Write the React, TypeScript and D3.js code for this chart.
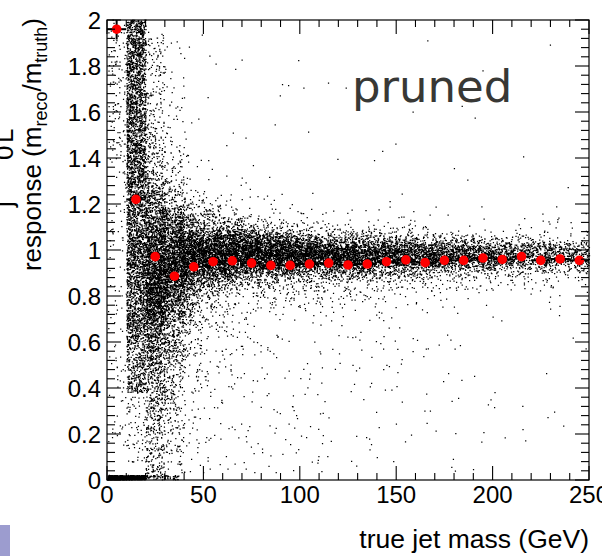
import React, { useMemo } from "react";
import * as d3 from "d3";

const W = 602;
const H = 556;

// profile (red markers): bin centres in GeV and mean response
const binCenters = [5, 15, 25, 35, 45, 55, 65, 75, 85, 95, 105, 115, 125, 135, 145, 155, 165, 175, 185, 195, 205, 215, 225, 235, 245];
const profileValues = [1.96, 1.22, 0.971, 0.886, 0.927, 0.949, 0.953, 0.943, 0.933, 0.933, 0.939, 0.943, 0.935, 0.939, 0.949, 0.957, 0.945, 0.955, 0.955, 0.965, 0.959, 0.971, 0.955, 0.961, 0.955];
const profileErrors = [0.045, 0.02, 0.012, 0.01, 0.008, 0.007, 0.006, 0.006, 0.006, 0.006, 0.006, 0.006, 0.006, 0.006, 0.006, 0.006, 0.006, 0.006, 0.007, 0.007, 0.007, 0.008, 0.008, 0.009, 0.009];

// scatter cloud, per 10 GeV bin: gaussian core, wide low/high shoulders, sparse outliers
const coreMu = [0, 0, 0.92, 0.95, 0.98, 0.99, 0.99, 0.985, 0.985, 0.98, 0.98, 0.978, 0.975, 0.975, 0.975, 0.975, 0.975, 0.975, 0.975, 0.975, 0.975, 0.975, 0.975, 0.975, 0.975];
const coreSigma = [0, 0, 0.23, 0.14, 0.085, 0.072, 0.064, 0.058, 0.054, 0.05, 0.048, 0.046, 0.045, 0.044, 0.043, 0.042, 0.041, 0.04, 0.04, 0.039, 0.039, 0.038, 0.038, 0.038, 0.038];
const coreN = [0, 0, 2300, 1500, 1100, 950, 880, 820, 760, 700, 660, 620, 570, 530, 490, 450, 410, 370, 330, 290, 260, 230, 200, 180, 160];
const lowWideN = [0, 0, 650, 500, 240, 150, 120, 100, 90, 80, 75, 70, 65, 60, 55, 50, 45, 40, 35, 30, 28, 25, 22, 20, 18];
const highWideN = [0, 0, 220, 120, 70, 55, 48, 44, 40, 36, 32, 30, 28, 26, 24, 22, 20, 19, 18, 16, 15, 14, 12, 10, 9];
const lowOutlierN = [0, 0, 180, 100, 45, 30, 25, 22, 20, 18, 16, 14, 13, 12, 11, 10, 8, 7, 6, 5, 3, 3, 2, 2, 2];
const highOutlierN = [0, 0, 110, 35, 10, 6, 5, 4, 4, 3, 3, 3, 2, 2, 2, 2, 2, 2, 2, 2, 1, 1, 1, 1, 1];

// extra uniform regions: low-mass column and the zero-response strip
const rectX0 = [0.5, 0.5, 10, 10, 10, 0, 20];
const rectX1 = [10, 10, 20, 20, 20, 20, 37];
const rectY0 = [0.15, 1.4, 0.6, 0.38, 0.05, 0.0, 0.0];
const rectY1 = [2.0, 2.0, 2.0, 0.6, 0.38, 0.02, 0.02];
const rectN = [150, 70, 3600, 340, 70, 900, 60];

const xTicks = [0, 50, 100, 150, 200, 250];
const yTicks = [0, 0.2, 0.4, 0.6, 0.8, 1, 1.2, 1.4, 1.6, 1.8, 2];

const L = 107, R = 589, T = 20, B = 480;

export default function App() {
  const x = d3.scaleLinear().domain([0, 250]).range([L, R]);
  const y = d3.scaleLinear().domain([0, 2]).range([B, T]);

  const dotsPath = useMemo(() => {
    const lcg = d3.randomLcg(0.4242);
    const nrm = d3.randomNormal.source(lcg)(0, 1);
    const cx = binCenters.slice(2);
    const muAt = d3.scaleLinear().domain(cx).range(coreMu.slice(2)).clamp(true);
    const sgAt = d3.scaleLinear().domain(cx).range(coreSigma.slice(2)).clamp(true);
    const pts: [number, number][] = [];
    const push = (gx: number, gy: number) => {
      if (gy < 0 || gy > 2 || gx < 0 || gx > 250) return;
      pts.push([gx, gy]);
    };
    for (let i = 2; i < binCenters.length; i++) {
      const x0 = binCenters[i] - 5;
      for (let k = 0; k < coreN[i]; k++) {
        const gx = x0 + lcg() * 10;
        push(gx, muAt(gx) + sgAt(gx) * nrm());
      }
      for (let k = 0; k < lowWideN[i]; k++) {
        const gx = x0 + lcg() * 10;
        push(gx, muAt(gx) - Math.abs(nrm()) * 2.8 * sgAt(gx));
      }
      for (let k = 0; k < highWideN[i]; k++) {
        const gx = x0 + lcg() * 10;
        push(gx, muAt(gx) + Math.abs(nrm()) * 2.1 * sgAt(gx));
      }
      for (let k = 0; k < lowOutlierN[i]; k++) push(x0 + lcg() * 10, 0.03 + lcg() * 0.6);
      for (let k = 0; k < highOutlierN[i]; k++) {
        const gx = x0 + lcg() * 10;
        const hi = muAt(gx) + 2 * sgAt(gx);
        push(gx, hi + (1.95 - hi) * lcg());
      }
    }
    for (let r = 0; r < rectN.length; r++) {
      for (let k = 0; k < rectN[r]; k++)
        push(rectX0[r] + lcg() * (rectX1[r] - rectX0[r]), rectY0[r] + lcg() * (rectY1[r] - rectY0[r]));
    }
    return pts
      .map(([gx, gy]) => `M${x(gx).toFixed(1)},${(y(gy) - 0.6).toFixed(1)}h1.25v1.25h-1.25z`)
      .join("");
  }, []);

  const xMinor = d3.range(0, 251, 10);
  const yMinor = d3.range(0, 2.0001, 0.04);
  const fmt = d3.format("~g");
  const font = "'Liberation Sans', Arial, Helvetica, sans-serif";

  return (
    <svg width={W} height={H} style={{ position: "absolute", left: 0, top: 0, background: "#fff" }}>
      <rect x={0} y={0} width={W} height={H} fill="#fff" />
      {/* fragments of the neighbouring panel */}
      <g fontFamily={font} fontSize={26} fill="#000">
        <text transform="translate(13,207) rotate(-90)">j</text>
        <text transform="translate(13,160) rotate(-90)">0</text>
        <text transform="translate(13,143) rotate(-90)">L</text>
      </g>
      <rect x={0} y={525} width={10} height={31} fill="#9c9ccf" />

      <path d={dotsPath} fill="#000" />

      {/* profile: error bars + markers */}
      <g stroke="#000" strokeWidth={2} fill="none">
        {binCenters.map((c, i) => (
          <g key={i}>
            <line x1={x(c - 5)} x2={x(c + 5)} y1={y(profileValues[i])} y2={y(profileValues[i])} />
            <line x1={x(c)} x2={x(c)} y1={y(Math.min(2, profileValues[i] + profileErrors[i]))} y2={y(profileValues[i] - profileErrors[i])} />
          </g>
        ))}
      </g>
      <g fill="#ff0000">
        {binCenters.map((c, i) => (
          <circle key={i} cx={x(c)} cy={y(profileValues[i])} r={4.8} />
        ))}
      </g>

      {/* frame & ticks */}
      <rect x={L} y={T} width={R - L} height={B - T} fill="none" stroke="#000" strokeWidth={1.2} />
      <g stroke="#000" strokeWidth={1.1}>
        {xMinor.map((v) => {
          const len = v % 50 === 0 ? 14 : 7;
          return (
            <g key={"x" + v}>
              <line x1={x(v)} x2={x(v)} y1={B} y2={B - len} />
              <line x1={x(v)} x2={x(v)} y1={T} y2={T + len} />
            </g>
          );
        })}
        {yMinor.map((v, i) => {
          const len = i % 5 === 0 ? 14 : 8;
          return (
            <g key={"y" + i}>
              <line x1={L} x2={L + len} y1={y(v)} y2={y(v)} />
              <line x1={R} x2={R - len} y1={y(v)} y2={y(v)} />
            </g>
          );
        })}
      </g>

      <g fontFamily={font} fontSize={24} fill="#000">
        {xTicks.map((v) => (
          <text key={v} x={x(v)} y={503} textAnchor="middle">{fmt(v)}</text>
        ))}
        {yTicks.map((v) => (
          <text key={v} x={101} y={y(v) + 8.5} textAnchor="end">{fmt(v)}</text>
        ))}
      </g>

      <text x={589} y={548} textAnchor="end" fontFamily={font} fontSize={26.5}>true jet mass (GeV)</text>
      <text transform="translate(41,18) rotate(-90)" textAnchor="end" fontFamily={font} fontSize={26}>
        response (m<tspan dy={6} fontSize={18}>reco</tspan><tspan dy={-6}>/m</tspan><tspan dy={6} fontSize={18}>truth</tspan><tspan dy={-6}>)</tspan>
      </text>

      <text x={352} y={102} fontFamily="'DejaVu Sans', Verdana, sans-serif" fontSize={45} fill="#383835">pruned</text>
    </svg>
  );
}
